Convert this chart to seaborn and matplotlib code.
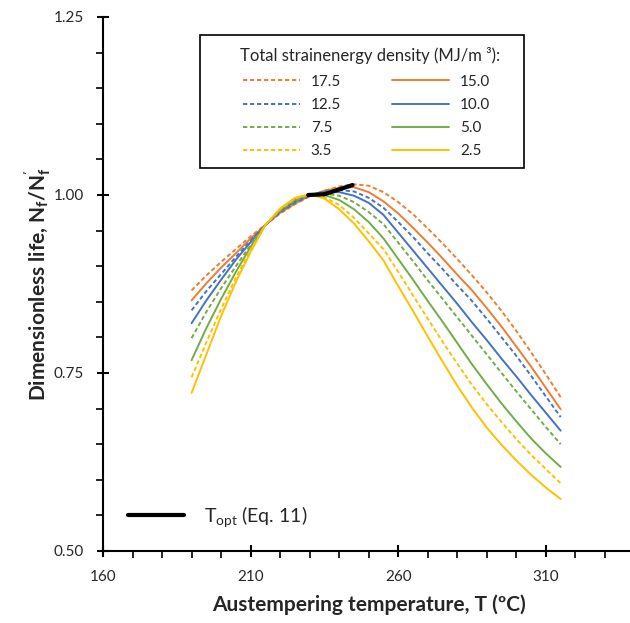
import matplotlib
matplotlib.use("Agg")
import matplotlib.pyplot as plt
import seaborn as sns
import pandas as pd
from matplotlib.ticker import FixedLocator, FormatStrFormatter
from matplotlib.lines import Line2D
from matplotlib.patches import Rectangle

sns.set_theme(style="white")
plt.rcParams['font.family'] = ['Lato', 'DejaVu Sans']
plt.rcParams['mathtext.default'] = 'regular'

temperature = [190, 195, 200, 205, 210, 215, 220, 225, 230, 235, 240, 245, 250,
               255, 260, 265, 270, 275, 280, 285, 290, 295, 300, 305, 310, 315]

life_17_5 = [0.866, 0.887, 0.906, 0.924, 0.942, 0.958, 0.974, 0.987, 0.998, 1.006, 1.012, 1.015, 1.013,
             1.004, 0.990, 0.973, 0.953, 0.932, 0.910, 0.887, 0.863, 0.837, 0.809, 0.779, 0.748, 0.716]
life_15_0 = [0.852, 0.876, 0.898, 0.918, 0.939, 0.958, 0.975, 0.988, 0.999, 1.006, 1.010, 1.011, 1.004,
             0.991, 0.974, 0.954, 0.933, 0.911, 0.888, 0.866, 0.841, 0.815, 0.787, 0.759, 0.729, 0.699]
life_12_5 = [0.838, 0.865, 0.889, 0.913, 0.936, 0.958, 0.976, 0.989, 0.999, 1.005, 1.007, 1.005, 0.996,
             0.982, 0.962, 0.941, 0.918, 0.896, 0.873, 0.851, 0.826, 0.800, 0.774, 0.746, 0.717, 0.688]
life_10_0 = [0.820, 0.852, 0.881, 0.909, 0.934, 0.958, 0.977, 0.991, 1.000, 1.004, 1.004, 0.999, 0.989,
             0.972, 0.947, 0.922, 0.897, 0.872, 0.847, 0.821, 0.796, 0.770, 0.745, 0.719, 0.694, 0.669]
life_7_5 = [0.799, 0.836, 0.869, 0.900, 0.930, 0.958, 0.978, 0.992, 1.000, 1.002, 0.999, 0.990, 0.976,
            0.959, 0.933, 0.907, 0.880, 0.854, 0.828, 0.802, 0.776, 0.750, 0.724, 0.699, 0.674, 0.650]
life_5_0 = [0.768, 0.813, 0.854, 0.892, 0.927, 0.958, 0.979, 0.994, 1.001, 1.000, 0.993, 0.980, 0.962,
            0.939, 0.910, 0.881, 0.851, 0.822, 0.792, 0.762, 0.734, 0.707, 0.682, 0.658, 0.637, 0.618]
life_3_5 = [0.744, 0.793, 0.840, 0.884, 0.923, 0.958, 0.980, 0.995, 1.001, 0.997, 0.986, 0.968, 0.946,
            0.924, 0.892, 0.859, 0.826, 0.794, 0.763, 0.733, 0.706, 0.681, 0.657, 0.635, 0.615, 0.595]
life_2_5 = [0.722, 0.776, 0.830, 0.878, 0.920, 0.958, 0.981, 0.996, 1.001, 0.995, 0.980, 0.960, 0.935,
            0.908, 0.872, 0.837, 0.801, 0.766, 0.732, 0.701, 0.673, 0.649, 0.627, 0.607, 0.589, 0.573]

topt_T = [229.5, 235.0, 244.5]
topt_life = [1.000, 1.001, 1.014]

x_ticks = [160, 210, 260, 310]
y_ticks = [0.50, 0.75, 1.00, 1.25]

series_labels = ["17.5", "15.0", "12.5", "10.0", "7.5", "5.0", "3.5", "2.5"]
series_values = [life_17_5, life_15_0, life_12_5, life_10_0, life_7_5, life_5_0, life_3_5, life_2_5]
series_colors = ["#ED7D31", "#ED7D31", "#4472C4", "#4472C4", "#70AD47", "#70AD47", "#FFC000", "#FFC000"]
series_dashed = [True, False, True, False, True, False, True, False]

DASH = (0, (2.2, 1.4))

fig = plt.figure(figsize=(6.30, 6.23), dpi=100)
W, H = 630, 623
ax = fig.add_axes([103 / W, (H - 551) / H, 531.5 / W, 534 / H])

handles = {}
for lab, vals, col, dsh in zip(series_labels, series_values, series_colors, series_dashed):
    df = pd.DataFrame({"T": temperature, "life": vals})
    sns.lineplot(data=df, x="T", y="life", ax=ax, color=col, linewidth=1.4,
                 linestyle=DASH if dsh else "-", legend=False)
    handles[lab] = Line2D([], [], color=col, linewidth=1.4, linestyle=DASH if dsh else "-")

sns.lineplot(x=topt_T, y=topt_life, ax=ax, color="black", linewidth=3.0, legend=False)

ax.set_xlim(160, 340)
ax.set_ylim(0.5, 1.25)
ax.xaxis.set_major_locator(FixedLocator(x_ticks))
ax.xaxis.set_minor_locator(FixedLocator(list(range(160, 341, 10))))
ax.yaxis.set_major_locator(FixedLocator(y_ticks))
ax.yaxis.set_minor_locator(FixedLocator([0.5 + 0.05 * i for i in range(16)]))
ax.yaxis.set_major_formatter(FormatStrFormatter("%.2f"))

for s in ["top", "right"]:
    ax.spines[s].set_visible(False)
for s in ["left", "bottom"]:
    ax.spines[s].set_color("black")
    ax.spines[s].set_linewidth(1.5)

ax.tick_params(which="major", direction="inout", length=9, width=1.5, colors="black",
               labelsize=11, labelcolor="#262626")
ax.tick_params(which="minor", direction="out", length=5, width=1.2, colors="black")
ax.tick_params(axis="x", which="major", pad=9, bottom=True)
ax.tick_params(axis="y", which="major", pad=9, left=True)
ax.tick_params(axis="x", which="minor", bottom=True)
ax.tick_params(axis="y", which="minor", left=True)

ax.set_xlabel("Austempering temperature, T (ºC)", fontsize=15, fontweight="bold", labelpad=8)
ax.set_ylabel("Dimensionless life, N$_f$/N$_f^{'}$", fontsize=15, fontweight="bold", labelpad=1)

# legend box
ax.add_patch(Rectangle((0.1825, 0.7172), 0.6096, 0.2491, transform=ax.transAxes,
                       facecolor="white", edgecolor="black", linewidth=1.2, zorder=5))
ax.text(0.5023, 0.9288, "Total strainenergy density (MJ/m ³):", transform=ax.transAxes,
        ha="center", va="center", fontsize=12, color="#262626", zorder=6)

order = ["17.5", "12.5", "7.5", "3.5", "15.0", "10.0", "5.0", "2.5"]
leg = ax.legend([handles[k] for k in order], order, ncol=2,
                loc="center", bbox_to_anchor=(0.4958, 0.8137),
                fontsize=11, frameon=False, borderpad=0, borderaxespad=0,
                handlelength=3.73, columnspacing=3.34, labelspacing=0.6,
                handletextpad=0.72)
leg.set_zorder(7)
for t in leg.get_texts():
    t.set_color("#262626")
ax.add_artist(leg)

topt_handle = Line2D([], [], color="black", linewidth=3.0)
leg2 = ax.legend([topt_handle], ["T$_{opt}$ (Eq. 11)"], loc="center left",
                 bbox_to_anchor=(0.047, 0.064), frameon=False, fontsize=14,
                 borderpad=0, borderaxespad=0, handlelength=2.9, handletextpad=1.0)
for t in leg2.get_texts():
    t.set_color("#262626")

fig.savefig("out.png", dpi=100)
